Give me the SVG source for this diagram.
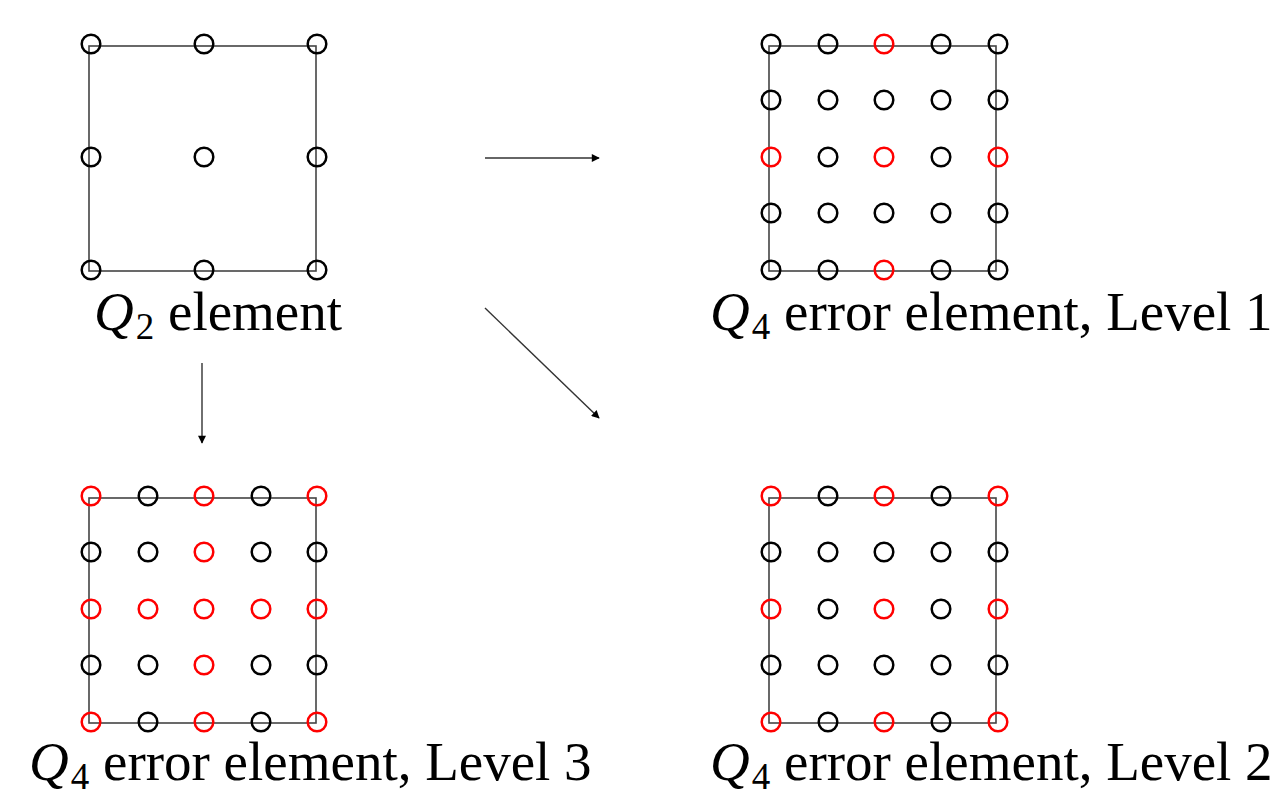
<svg xmlns="http://www.w3.org/2000/svg" width="1276" height="795" viewBox="0 0 1276 795">
  <style>
    .edge { fill: none; stroke: #444; stroke-width: 1.6; }
    .n { fill: none; stroke: #000; stroke-width: 2.5; }
    .r { fill: none; stroke: #f00; stroke-width: 2.5; }
    .arrow { fill: none; stroke: #333; stroke-width: 1.4; marker-end: url(#head); }
    .lbl { font-family: "Liberation Serif", "Times New Roman", serif; font-size: 55px; fill: #000; }
    .q { font-style: italic; }
  </style>
  <defs>
    <marker id="head" viewBox="0 0 10 10" refX="9" refY="5" markerWidth="11" markerHeight="8" markerUnits="userSpaceOnUse" orient="auto">
      <path d="M0,0 L10,5 L0,10 z" fill="#000"/>
    </marker>
  </defs>
  <rect width="1276" height="795" fill="#fff"/>

  <!-- Q2 element -->
  <g id="q2">
    <rect class="edge" x="89" y="46" width="227" height="225"/>
    <circle class="n" cx="91" cy="44" r="9.3"/><circle class="n" cx="204" cy="44" r="9.3"/><circle class="n" cx="317" cy="44" r="9.3"/>
    <circle class="n" cx="91" cy="157" r="9.3"/><circle class="n" cx="204" cy="157" r="9.3"/><circle class="n" cx="317" cy="157" r="9.3"/>
    <circle class="n" cx="91" cy="270" r="9.3"/><circle class="n" cx="204" cy="270" r="9.3"/><circle class="n" cx="317" cy="270" r="9.3"/>
    <text class="lbl" x="94" y="330"><tspan class="q">Q</tspan><tspan font-size="37" dx="2" dy="9">2</tspan><tspan dy="-9"> element</tspan></text>
  </g>

  <!-- Q4 error element, Level 1 -->
  <g id="level1">
    <rect class="edge" x="769" y="46" width="227" height="225"/>
    <circle class="n" cx="771" cy="44" r="9.3"/><circle class="n" cx="828" cy="44" r="9.3"/><circle class="r" cx="884" cy="44" r="9.3"/><circle class="n" cx="941" cy="44" r="9.3"/><circle class="n" cx="998" cy="44" r="9.3"/>
    <circle class="n" cx="771" cy="100" r="9.3"/><circle class="n" cx="828" cy="100" r="9.3"/><circle class="n" cx="884" cy="100" r="9.3"/><circle class="n" cx="941" cy="100" r="9.3"/><circle class="n" cx="998" cy="100" r="9.3"/>
    <circle class="r" cx="771" cy="157" r="9.3"/><circle class="n" cx="828" cy="157" r="9.3"/><circle class="r" cx="884" cy="157" r="9.3"/><circle class="n" cx="941" cy="157" r="9.3"/><circle class="r" cx="998" cy="157" r="9.3"/>
    <circle class="n" cx="771" cy="213" r="9.3"/><circle class="n" cx="828" cy="213" r="9.3"/><circle class="n" cx="884" cy="213" r="9.3"/><circle class="n" cx="941" cy="213" r="9.3"/><circle class="n" cx="998" cy="213" r="9.3"/>
    <circle class="n" cx="771" cy="270" r="9.3"/><circle class="n" cx="828" cy="270" r="9.3"/><circle class="r" cx="884" cy="270" r="9.3"/><circle class="n" cx="941" cy="270" r="9.3"/><circle class="n" cx="998" cy="270" r="9.3"/>
    <text class="lbl" x="710" y="330"><tspan class="q">Q</tspan><tspan font-size="37" dx="2" dy="9">4</tspan><tspan dy="-9"> error element, Level 1</tspan></text>
  </g>

  <!-- Q4 error element, Level 3 -->
  <g id="level3">
    <rect class="edge" x="89" y="498" width="227" height="225"/>
    <circle class="r" cx="91" cy="496" r="9.3"/><circle class="n" cx="148" cy="496" r="9.3"/><circle class="r" cx="204" cy="496" r="9.3"/><circle class="n" cx="261" cy="496" r="9.3"/><circle class="r" cx="317" cy="496" r="9.3"/>
    <circle class="n" cx="91" cy="552" r="9.3"/><circle class="n" cx="148" cy="552" r="9.3"/><circle class="r" cx="204" cy="552" r="9.3"/><circle class="n" cx="261" cy="552" r="9.3"/><circle class="n" cx="317" cy="552" r="9.3"/>
    <circle class="r" cx="91" cy="609" r="9.3"/><circle class="r" cx="148" cy="609" r="9.3"/><circle class="r" cx="204" cy="609" r="9.3"/><circle class="r" cx="261" cy="609" r="9.3"/><circle class="r" cx="317" cy="609" r="9.3"/>
    <circle class="n" cx="91" cy="665" r="9.3"/><circle class="n" cx="148" cy="665" r="9.3"/><circle class="r" cx="204" cy="665" r="9.3"/><circle class="n" cx="261" cy="665" r="9.3"/><circle class="n" cx="317" cy="665" r="9.3"/>
    <circle class="r" cx="91" cy="722" r="9.3"/><circle class="n" cx="148" cy="722" r="9.3"/><circle class="r" cx="204" cy="722" r="9.3"/><circle class="n" cx="261" cy="722" r="9.3"/><circle class="r" cx="317" cy="722" r="9.3"/>
    <text class="lbl" x="29" y="780"><tspan class="q">Q</tspan><tspan font-size="37" dx="2" dy="9">4</tspan><tspan dy="-9"> error element, Level 3</tspan></text>
  </g>

  <!-- Q4 error element, Level 2 -->
  <g id="level2">
    <rect class="edge" x="769" y="498" width="227" height="225"/>
    <circle class="r" cx="771" cy="496" r="9.3"/><circle class="n" cx="828" cy="496" r="9.3"/><circle class="r" cx="884" cy="496" r="9.3"/><circle class="n" cx="941" cy="496" r="9.3"/><circle class="r" cx="998" cy="496" r="9.3"/>
    <circle class="n" cx="771" cy="552" r="9.3"/><circle class="n" cx="828" cy="552" r="9.3"/><circle class="n" cx="884" cy="552" r="9.3"/><circle class="n" cx="941" cy="552" r="9.3"/><circle class="n" cx="998" cy="552" r="9.3"/>
    <circle class="r" cx="771" cy="609" r="9.3"/><circle class="n" cx="828" cy="609" r="9.3"/><circle class="r" cx="884" cy="609" r="9.3"/><circle class="n" cx="941" cy="609" r="9.3"/><circle class="r" cx="998" cy="609" r="9.3"/>
    <circle class="n" cx="771" cy="665" r="9.3"/><circle class="n" cx="828" cy="665" r="9.3"/><circle class="n" cx="884" cy="665" r="9.3"/><circle class="n" cx="941" cy="665" r="9.3"/><circle class="n" cx="998" cy="665" r="9.3"/>
    <circle class="r" cx="771" cy="722" r="9.3"/><circle class="n" cx="828" cy="722" r="9.3"/><circle class="r" cx="884" cy="722" r="9.3"/><circle class="n" cx="941" cy="722" r="9.3"/><circle class="r" cx="998" cy="722" r="9.3"/>
    <text class="lbl" x="710" y="780"><tspan class="q">Q</tspan><tspan font-size="37" dx="2" dy="9">4</tspan><tspan dy="-9"> error element, Level 2</tspan></text>
  </g>

  <!-- refinement arrows -->
  <g id="connectors">
    <line class="arrow" x1="485" y1="158" x2="599" y2="158"/>
    <line class="arrow" x1="485" y1="308" x2="599" y2="418"/>
    <line class="arrow" x1="202" y1="363" x2="202" y2="443"/>
  </g>
</svg>
